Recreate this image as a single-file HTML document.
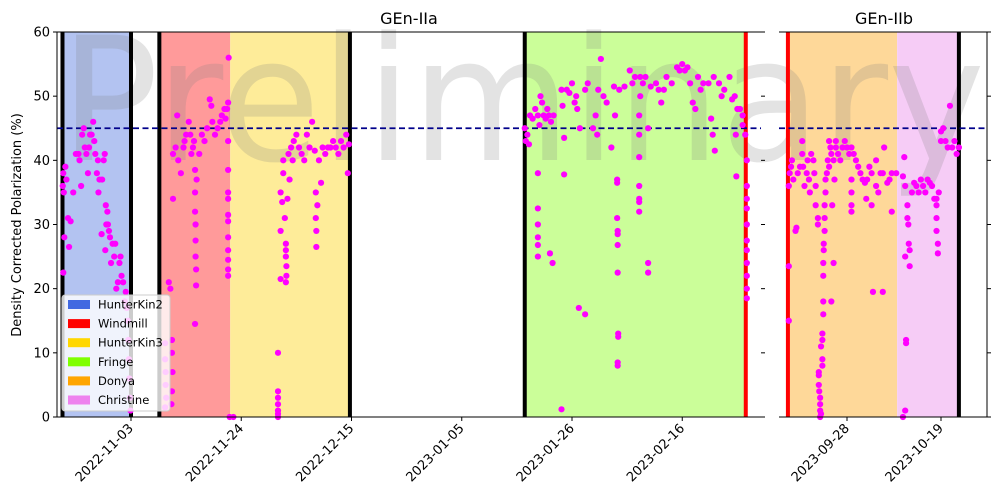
<!DOCTYPE html>
<html><head><meta charset="utf-8"><style>
html,body{margin:0;padding:0;background:#fff;}
svg{display:block;font-family:"DejaVu Sans","Liberation Sans",sans-serif;}
</style></head><body>
<svg id="chart" width="1001" height="503" viewBox="0 0 1001 503"></svg>
<script>
// ---- data (days relative to 2022-11-03 for panel A, 2023-09-28 for panel B; polarization %) ----
const daysA = [-13,-12.9,-12.8,-12.9,-12.7,-12.5,-12.3,-12,-11.8,-11.5,-11,-10.5,-10,-9.8,-9.5,-9.3,-9,-8.8,-8.5,-8.2,-8,-7.8,-7.5,-7.2,-7,-6.8,-6.5,-6.3,-6.2,-6,-5.6,-5.5,-5.2,-5,-4.9,-4.8,-4.7,-4.5,-4.4,-4.2,-4,-3.8,-3.5,-3.2,-3,-2.8,-2.5,-2.2,-2,-1.8,-1.5,-1.2,-1,-0.8,-0.6,-0.5,-0.4,-0.3,-0.2,-0.1,
6.5,6.5,6.6,6.6,6.7,6.5,7.8,7.8,7.9,7.8,7.7,7.2,7.5,8,8,8.5,8.8,9,9.5,10,10.2,10.5,11,11.3,11.5,11.8,12,12.2,12.2,12.2,12.3,12.3,12.3,12.4,12.4,12.2,12.5,13,13.5,14,14.5,15,15.3,15.5,16,16.5,17,17.3,17.8,18,18.3,18.5,18.6,18.5,18.5,18.5,18.5,18.5,18.5,18.5,18.5,18.5,18.5,18.5,18.8,
19.5,28,28,28,28,28,28,28,28.5,28.5,28.5,28.8,29,29,29.3,29.5,29.5,29.5,29.6,29.6,29.5,29.8,30,30.2,30.5,30.8,31,31.5,32,32.5,33,33.5,34,34.5,35,35.2,35.2,35.3,35.3,35.5,35.8,36.2,36.5,37,37.5,38,38.5,39,39.5,40,40.5,41,41.3,41.5,
75,75.2,75.5,75.8,76,76.5,77,77.5,77.8,78,78.3,78.6,79,79.3,79.6,80,80.5,80.3,79.8,77.5,77.5,77.5,77.5,77.5,77.5,82,82.2,82.5,82.5,82,83,83.5,84,84.5,84.8,85,85.5,85.3,86.5,86.5,87,88,88.5,88.8,89,89.5,90,90.6,92,92.2,92.6,91.5,92.6,92.6,92.7,92.7,92.7,92.7,92.8,92.8,92.7,92.7,93,94,95,95.5,96,97,96.8,96.8,96.8,96.8,96.8,96.8,96.8,97,97.5,98,98.5,98.5,98.5,99,100,100.5,101,101.5,102,103,104,104.5,105,105.5,106,106.5,107,107.5,108,108.5,109,110,110.5,110.8,111,111.2,112,112.5,113,114,114.5,115,115.5,115.2,115.3,116,116.5,116.5,117,117.3,117.3,117.3,117.3,117.3,117.3,117.3,117.3,117.3,117.3,117.3];
const valsA = [36,38,35,22.5,28,39,37,31,26.5,30.5,35,41,41,40,36,44,45,42,41,38,42,44,44,46,43,41,38,40,35,37,28.5,37,40,41,26,33,30,32,30,29,28,24,27,25,27,20,21,24,25,22,21,18,19.5,17,15,12,9,6,3,1,
11.5,9,7,5,3,1.5,12,10,7,4,2,21,20,34,41,42,47,40,38,42,43,44,46,44,41,42,43,38.5,35,32,30,27.5,25,23,20.5,14.5,37,41,44,43,45,49.5,48.5,46,44,45,46,47,48,46.5,48,49,56,43,38.5,35,34,31.5,30.5,28,26,24.5,23,22,0,
0,10,4,3,2,1,0.5,0,21.5,29,35,33.5,38,40,31,27,26,25,23.5,22,21,34,41,37,42,40,43,44,42,41,40,44,42,46,41.5,35,31,26.5,29,33,40,36.5,42,41,42,42,43,42,41,43,42,44,38,42.5,
45,43,44,42.5,47,46.5,48,47,45.5,50,49,47,46.5,48,47,46,47,24,25.5,38,32.5,30,26.8,25,28,51,48.5,37.8,43.5,1.2,51,50.5,52,49,50,48,45,17,16,51,52,45,47,44,51,55.8,50,49,51.5,47,31,42,36.5,37,29,28.5,26.8,22.5,13,12.5,8.5,8,51,51.5,54,52,53,53,36,34,33.5,32,40.5,44,47,50,52,53,45,24,22.5,51.5,52,51,49,51,53,52,54.5,54,55,54,54.5,52,49,48,53,51,52,52,46.5,44,53,41.5,52,50,51,53,49.5,50,48,44,37.5,48,47,45.5,44,40,36,34,32.5,30,27.5,26,24,22,20,18.5];
const daysB = [-13,-13,-13,-12.8,-12.5,-12.3,-12,-11.5,-11.3,-11,-10.5,-10,-10,-9.8,-9.5,-9,-8.8,-8.5,-8.3,-8,-7.5,-7.3,-7,-7,-6.5,-6.5,-6.3,-6.3,-6.3,-6.2,-6,-6,-6,-6,-5.8,-5.8,-5.5,-5.5,-5.5,-5.5,-5.3,-5.3,-5.3,-5.3,-5.2,-5.2,-5,-5,-5,-4.8,-4.8,-4.5,-4.3,-4,-4,-3.7,-3.5,-3.5,-3,-3.3,-3,-2.8,-2.5,-2.5,-2,-1.5,-1,-0.5,0,0.5,1,1,1,1,1,1.5,2,2.5,3,3.5,4,4.3,4.5,5,5.5,5.5,5.8,6.5,6.5,7,7.5,8,8.3,8,9,9.5,10,10,11,12.5,13,12.5,12.8,13,13,13.2,13.2,13.5,13.5,13.7,13.8,14,14,14.5,15,15.5,16,16.5,17,17.5,18,18.5,19,19.5,20,20,20,20,20.3,20.3,20.5,21,21,21.5,22,22.5,23,23.5,24,24.5,25];
const valsB = [23.5,15,36,38,39,40,37,29,29.5,38,39,41,43,39,36,38,40,37,35,41,40,38,36,33,30,31,7,6.5,5,4,3,2,1,0,0.5,11,8,9,12,13,16,18,22,24,26,27,29,31,33,35,37,38,40,39,43,42,41,18,24,33,40,37,42,43,41,40,42,43,42,41,42,37,35,33,32,41,40,39,38,37,36.5,34,37,39,38,33,19.5,40,36,35,38,38,42,19.5,36.5,37,38,32,38,0,1,37.5,40.5,36,25,11.5,12,33,31,30,27,26,23.5,35,36.5,36,35,37,36,35,37,36.5,36,34,34,33,31,29,27,25.5,35,43,44.5,45,43,42,48.5,42,43,41,42];
const yTicks = [0,10,20,30,40,50,60];
const tickDaysA = [0,21,42,63,84,105];
const tickLabelsA = ["2022-11-03","2022-11-24","2022-12-15","2023-01-05","2023-01-26","2023-02-16"];
const tickDaysB = [0,21];
const tickLabelsB = ["2023-09-28","2023-10-19"];
const legendNames = ["HunterKin2","Windmill","HunterKin3","Fringe","Donya","Christine"];
const legendColors = ["#4169e1","#ff0000","#ffd700","#7fff00","#ffa500","#ee82ee"];

const NS="http://www.w3.org/2000/svg";
const svg=document.getElementById('chart');
function mk(tag,attrs,parent){const e=document.createElementNS(NS,tag);for(const k in attrs)e.setAttribute(k,attrs[k]);(parent||svg).appendChild(e);return e;}
const Y0=417,Y1=32;
const y=v=>Y0-(v/60)*(Y0-Y1);
const xA=d=>131+d*5.25;
const xB=d=>847+d*4.476;

// shaded regions
function region(x0,x1,fill,name){const r=mk('rect',{x:x0,y:Y1,width:x1-x0,height:Y0-Y1,fill:fill});

}
region(xA(-13.05),xA(0),'#b3c3f1','hunterkin2-region');
region(xA(5.4),xA(18.9),'#ff9a9a','windmill-region');
region(xA(18.9),xA(41.7),'#feec99','hunterkin3-region');
region(xA(75),xA(117.1),'#cbfe99','fringe-region');
region(xB(-13.2),xB(11.2),'#fed899','donya-region');
region(xB(11.2),xB(25),'#f6ccf6','christine-region');

// watermark
const wm=mk('text',{x:60,y:160,'font-size':172,fill:'#808080','fill-opacity':0.22,textLength:925,lengthAdjust:'spacingAndGlyphs'});
wm.textContent='Preliminary';



// vertical run lines
function vline(x,color,name){const l=mk('line',{x1:x,x2:x,y1:Y1,y2:Y0,stroke:color,'stroke-width':4});

}
[-13.05,0,5.4,41.7,75].forEach(d=>vline(xA(d),'#000','run-boundary-line'));
vline(xA(117.1),'#ff0000','run-boundary-red');
vline(xB(-13.2),'#ff0000','run-boundary-red');
vline(xB(25),'#000','run-boundary-line');

// 45% reference
mk('line',{x1:57,x2:761,y1:y(45),y2:y(45),stroke:'#00008b','stroke-width':1.8,'stroke-dasharray':'6,3.5'});
mk('line',{x1:779,x2:987,y1:y(45),y2:y(45),stroke:'#00008b','stroke-width':1.8,'stroke-dasharray':'6,3.5'});

// points
daysA.forEach((d,i)=>{const c=mk('circle',{cx:xA(d),cy:y(valsA[i]),r:3.1,fill:'#ff00ff'});

});
daysB.forEach((d,i)=>{const c=mk('circle',{cx:xB(d),cy:y(valsB[i]),r:3.1,fill:'#ff00ff'});

});

// spines
mk('line',{x1:57,x2:57,y1:Y1,y2:Y0,stroke:'#000','stroke-width':1});
mk('line',{x1:57,x2:761,y1:Y0,y2:Y0,stroke:'#000','stroke-width':1});
mk('line',{x1:57,x2:761,y1:Y1,y2:Y1,stroke:'#000','stroke-width':1});
mk('line',{x1:779,x2:987,y1:Y0,y2:Y0,stroke:'#000','stroke-width':1});
mk('line',{x1:779,x2:987,y1:Y1,y2:Y1,stroke:'#000','stroke-width':1});
mk('line',{x1:987,x2:987,y1:Y1,y2:Y0,stroke:'#000','stroke-width':1});

// y ticks
yTicks.forEach(v=>{
  mk('line',{x1:53,x2:57,y1:y(v),y2:y(v),stroke:'#000'});
  mk('line',{x1:761,x2:765,y1:y(v),y2:y(v),stroke:'#000'});
  mk('line',{x1:987,x2:991,y1:y(v),y2:y(v),stroke:'#000'});
  const t=mk('text',{x:50,y:y(v)+4.5,'text-anchor':'end','font-size':13,fill:'#000'});
  t.textContent=v;
  
  
});
// x ticks
function xtick(x,label){
  mk('line',{x1:x,x2:x,y1:Y0,y2:Y0+4,stroke:'#000'});
  const t=mk('text',{x:x+3,y:Y0+12,'text-anchor':'end','font-size':13,fill:'#000',transform:`rotate(-45 ${x+3} ${Y0+12})`});
  t.textContent=label;
  
  
}
tickDaysA.forEach((d,i)=>xtick(xA(d),tickLabelsA[i]));
tickDaysB.forEach((d,i)=>xtick(xB(d),tickLabelsB[i]));

// titles
const t1=mk('text',{x:409,y:24,'text-anchor':'middle','font-size':16,fill:'#000'});t1.textContent='GEn-IIa';


const t2=mk('text',{x:884,y:24,'text-anchor':'middle','font-size':16,fill:'#000'});t2.textContent='GEn-IIb';


const yl=mk('text',{x:21,y:225,'text-anchor':'middle','font-size':13,fill:'#000',transform:'rotate(-90 21 225)'});
yl.textContent='Density Corrected Polarization (%)';



// legend
const lg=mk('g',{});


mk('rect',{x:62,y:295,width:108,height:116,rx:3,fill:'#fff','fill-opacity':0.8,stroke:'#ccc'},lg);
legendNames.forEach((n,i)=>{
  const yy=304+i*19.1;
  const sw=mk('rect',{x:68,y:yy-4,width:22,height:9,fill:legendColors[i]},lg);
  
  const t=mk('text',{x:98,y:yy+4.5,'font-size':11.5,fill:'#000'},lg);
  t.textContent=n;
  
  
});
</script>
</body></html>
